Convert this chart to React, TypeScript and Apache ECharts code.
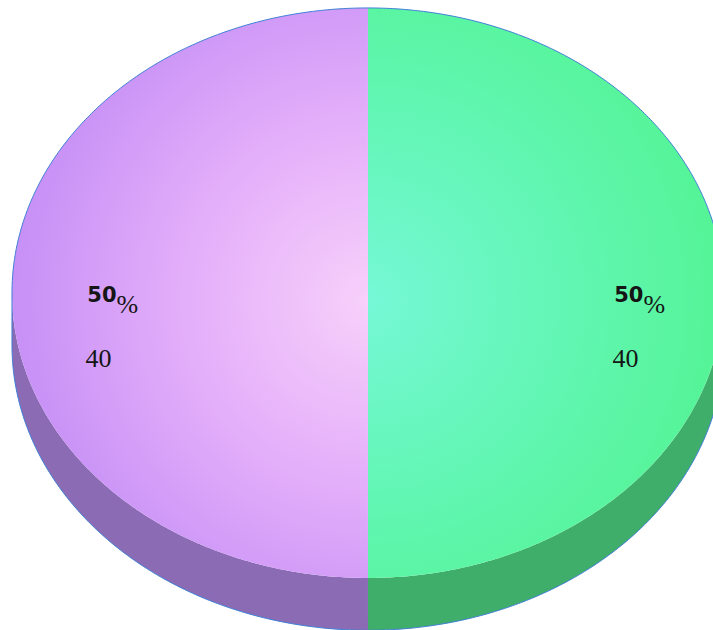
import React, { useEffect, useRef } from "react";
import * as echarts from "echarts";

// Two slices of the pie, listed clockwise from twelve o'clock.
const sliceNames = ["Second", "First"];
const sliceValues = [40, 40];

// Palette per slice: top-face gradient (inner -> outer) and the darker rim.
const faceInner = ["#76f8d6", "#f7d0fa"];
const faceMid = ["#62f6b4", "#e2acfa"];
const faceOuter = ["#55f497", "#c690f6"];
const rimColors = ["#3fae6a", "#8b6bb4"];
const outlineColor = "#3f7fd6";

const SERIF = "serif";
const BOLD_SANS = "DejaVu Sans";

const TAU = Math.PI * 2;
const total = sliceValues.reduce((a, b) => a + b, 0);

function textEl(x: number, y: number, text: string, size: number, family: string, weight: string, align: string) {
  return {
    type: "text",
    x,
    y,
    style: {
      text,
      fontSize: size,
      fontFamily: family,
      fontWeight: weight,
      fill: "#151515",
      align,
      verticalAlign: "middle",
    },
    z2: 4,
  };
}

function renderSlice(params: any, api: any) {
  const i = params.dataIndex;
  const value = api.value(0) as number;
  const W = api.getWidth();
  const H = api.getHeight();

  // Ellipse geometry of the tilted disc.
  const cx = W * 0.5161;
  const cy = H * 0.465;
  const rx = W * 0.4993;
  const ry = H * 0.4524;
  const depth = H * 0.083;

  let before = 0;
  for (let k = 0; k < i; k++) before += sliceValues[k];
  const a0 = -Math.PI / 2 + (before / total) * TAU;
  const a1 = a0 + (value / total) * TAU;

  const top = (t: number) => [cx + rx * Math.cos(t), cy + ry * Math.sin(t)];
  const bot = (t: number) => [cx + rx * Math.cos(t), cy + depth + ry * Math.sin(t)];
  const sample = (f0: number, f1: number) => {
    const n = Math.max(2, Math.ceil((f1 - f0) / (Math.PI / 360)));
    const out: number[] = [];
    for (let s = 0; s <= n; s++) out.push(f0 + ((f1 - f0) * s) / n);
    return out;
  };

  const children: any[] = [];

  // Visible rim: the part of the slice facing the viewer (lower half of the ellipse).
  for (let k = -1; k <= 1; k++) {
    const f0 = Math.max(a0, k * TAU);
    const f1 = Math.min(a1, k * TAU + Math.PI);
    if (f1 - f0 > 1e-6) {
      const ts = sample(f0, f1);
      const up = ts.map(top);
      const down = ts.map(bot).reverse();
      children.push({
        type: "polygon",
        shape: { points: [...up, ...down] },
        style: { fill: rimColors[i] },
        z2: 1,
      });
    }
  }

  // Top face.
  const angles = sample(a0, a1);
  children.push({
    type: "polygon",
    shape: { points: [[cx, cy], ...angles.map(top)] },
    style: {
      fill: new echarts.graphic.RadialGradient(
        cx,
        cy + 8,
        rx,
        [
          { offset: 0, color: faceInner[i] },
          { offset: 0.55, color: faceMid[i] },
          { offset: 1, color: faceOuter[i] },
        ],
        true
      ),
    },
    z2: 2,
  });

  // Outer silhouette.
  children.push({
    type: "polyline",
    shape: { points: angles.map((t) => (Math.sin(t) < 0 ? top(t) : bot(t))) },
    style: { stroke: outlineColor, lineWidth: 1, fill: "none" },
    z2: 3,
  });

  // Labels: percentage and raw value.
  const mid = (a0 + a1) / 2;
  const ax = cx + Math.cos(mid) * rx * 0.74;
  const ay = cy + Math.sin(mid) * ry * 0.74;
  const pct = Math.round((value / total) * 100);

  children.push(textEl(ax + 12, ay + 2, String(pct), 21, BOLD_SANS, "bold", "right"));
  children.push(textEl(ax + 12, ay + 12, "%", 26, SERIF, "normal", "left"));
  children.push(textEl(ax - 6, ay + 66, String(value), 26, SERIF, "normal", "center"));

  return { type: "group", children };
}

export default function App() {
  const ref = useRef<HTMLDivElement>(null);

  useEffect(() => {
    if (!ref.current) return;
    const chart = echarts.init(ref.current, undefined, { renderer: "svg" });
    chart.setOption({
      animation: false,
      backgroundColor: "#ffffff",
      series: [
        {
          type: "custom",
          coordinateSystem: "none",
          silent: true,
          renderItem: renderSlice,
          data: sliceValues.map((v, i) => ({ name: sliceNames[i], value: [v] })),
        },
      ],
    });
    return () => chart.dispose();
  }, []);

  return (
    <div
      ref={ref}
      style={{ position: "fixed", left: 0, top: 0, width: 713, height: 630, background: "#fff" }}
    />
  );
}
